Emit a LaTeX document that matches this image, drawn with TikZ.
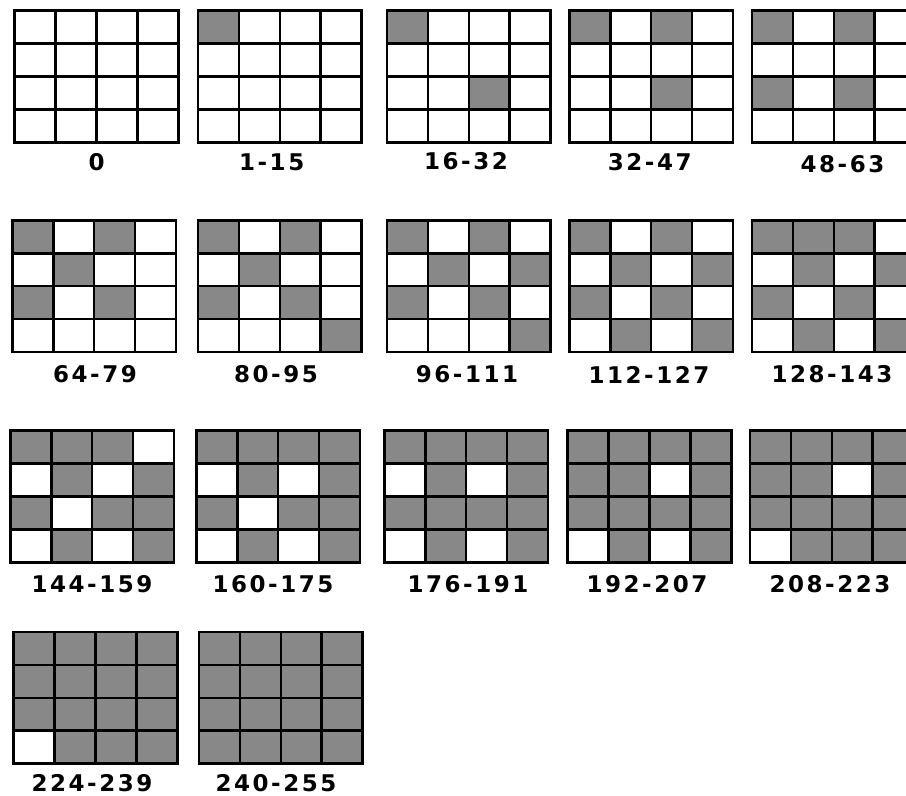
\documentclass[tikz,border=0pt]{standalone}
\usepackage{fontspec}
\usetikzlibrary{calc}
\newfontfamily\rangefont[LetterSpace=11]{DejaVu Sans}
\definecolor{DitherGray}{HTML}{888888}
\newcommand{\cellw}{40.9}
\newcommand{\cellh}{32.9}
% #1 top left corner, #2 gray cells as row/col
\newcommand{\dithergrid}[2]{%
  \if\relax\detokenize{#2}\relax\else
    \foreach \r/\c in {#2}
      \fill[DitherGray] ($(#1)+(\c*\cellw,\r*\cellh)$) rectangle ++(\cellw,\cellh);
  \fi
  \foreach \i in {0,...,4} {
    \draw[gridline] ($(#1)+(\i*\cellw,0)$) -- ++(0,4*\cellh);
    \draw[gridline] ($(#1)+(0,\i*\cellh)$) -- ++(4*\cellw,0);
  }
}

\begin{document}
\begin{tikzpicture}[
    x=1pt, y=-1pt,
    gridline/.style={
      draw=black,
      line width=2.6pt,
      line cap=rect
    },
    rangelabel/.style={
      anchor=base,
      inner sep=0pt,
      font=\fontsize{23}{26}\selectfont\rangefont\bfseries
    }
  ]
  \useasboundingbox (0,0) rectangle (906,796);
  \clip (0,0) rectangle (906,796);

  % first row
  \coordinate (g0)  at (14.6,10.6);
  \coordinate (g1)  at (198,10.6);
  \coordinate (g2)  at (387,10.6);
  \coordinate (g3)  at (569.3,10.6);
  \coordinate (g4)  at (752,10.6);
  % second row
  \coordinate (g5)  at (12.3,220.3);
  \coordinate (g6)  at (198,220.3);
  \coordinate (g7)  at (387,220.3);
  \coordinate (g8)  at (569.3,220.3);
  \coordinate (g9)  at (752,220.3);
  % third row
  \coordinate (g10) at (10.3,430.6);
  \coordinate (g11) at (196.3,430.6);
  \coordinate (g12) at (384.3,430.6);
  \coordinate (g13) at (567.6,430.6);
  \coordinate (g14) at (750,430.6);
  % last row
  \coordinate (g15) at (13.6,632);
  \coordinate (g16) at (199,632);

  \dithergrid{g0}{}
  \dithergrid{g1}{0/0}
  \dithergrid{g2}{0/0,2/2}
  \dithergrid{g3}{0/0,0/2,2/2}
  \dithergrid{g4}{0/0,0/2,2/0,2/2}
  \dithergrid{g5}{0/0,0/2,1/1,2/0,2/2}
  \dithergrid{g6}{0/0,0/2,1/1,2/0,2/2,3/3}
  \dithergrid{g7}{0/0,0/2,1/1,1/3,2/0,2/2,3/3}
  \dithergrid{g8}{0/0,0/2,1/1,1/3,2/0,2/2,3/1,3/3}
  \dithergrid{g9}{0/0,0/1,0/2,1/1,1/3,2/0,2/2,3/1,3/3}
  \dithergrid{g10}{0/0,0/1,0/2,1/1,1/3,2/0,2/2,2/3,3/1,3/3}
  \dithergrid{g11}{0/0,0/1,0/2,0/3,1/1,1/3,2/0,2/2,2/3,3/1,3/3}
  \dithergrid{g12}{0/0,0/1,0/2,0/3,1/1,1/3,2/0,2/1,2/2,2/3,3/1,3/3}
  \dithergrid{g13}{0/0,0/1,0/2,0/3,1/0,1/1,1/3,2/0,2/1,2/2,2/3,3/1,3/3}
  \dithergrid{g14}{0/0,0/1,0/2,0/3,1/0,1/1,1/3,2/0,2/1,2/2,2/3,3/1,3/2,3/3}
  \dithergrid{g15}{0/0,0/1,0/2,0/3,1/0,1/1,1/2,1/3,2/0,2/1,2/2,2/3,3/1,3/2,3/3}
  \dithergrid{g16}{0/0,0/1,0/2,0/3,1/0,1/1,1/2,1/3,2/0,2/1,2/2,2/3,3/0,3/1,3/2,3/3}

  \node[rangelabel] (l0)  at (96.7,170)  {0};
  \node[rangelabel] (l1)  at (271.7,170) {1-15};
  \node[rangelabel] (l2)  at (466,169)   {16-32};
  \node[rangelabel] (l3)  at (649.7,170) {32-47};
  \node[rangelabel] (l4)  at (842.5,172) {48-63};

  \node[rangelabel] (l5)  at (95,382)    {64-79};
  \node[rangelabel] (l6)  at (276,382)   {80-95};
  \node[rangelabel] (l7)  at (467,382)   {96-111};
  \node[rangelabel] (l8)  at (649,383)   {112-127};
  \node[rangelabel] (l9)  at (832,382)   {128-143};

  \node[rangelabel] (l10) at (92,592)    {144-159};
  \node[rangelabel] (l11) at (273,592)   {160-175};
  \node[rangelabel] (l12) at (468,592)   {176-191};
  \node[rangelabel] (l13) at (647,592)   {192-207};
  \node[rangelabel] (l14) at (830,592)   {208-223};

  \node[rangelabel] (l15) at (92,791)    {224-239};
  \node[rangelabel] (l16) at (276,791)   {240-255};

\end{tikzpicture}
\end{document}
